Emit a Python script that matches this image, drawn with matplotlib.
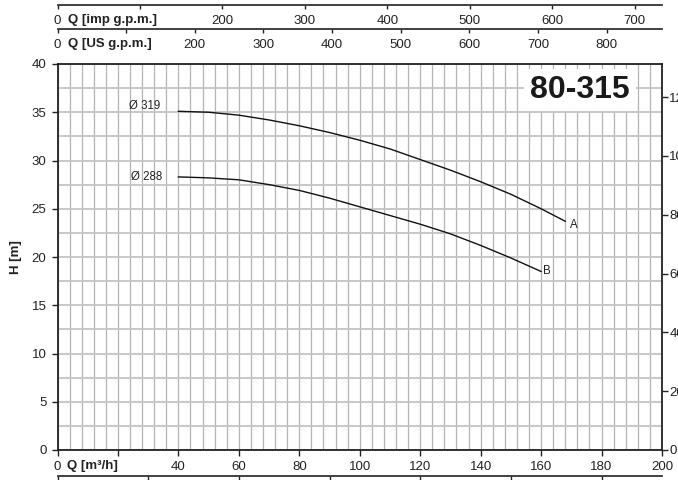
import numpy as np
import matplotlib
matplotlib.use('Agg')
import matplotlib.pyplot as plt

plt.rcParams['font.family'] = ['Liberation Sans', 'DejaVu Sans']

# ---- data ----
q_a = [40, 50, 60, 70, 80, 90, 100, 110, 120, 130, 140, 150, 160, 168]
h_a = [35.1, 35.0, 34.7, 34.2, 33.6, 32.9, 32.1, 31.2, 30.1, 29.0, 27.8, 26.5, 25.0, 23.7]
q_b = [40, 50, 60, 70, 80, 90, 100, 110, 120, 130, 140, 150, 160]
h_b = [28.3, 28.2, 28.0, 27.5, 26.9, 26.1, 25.2, 24.3, 23.4, 22.4, 21.2, 19.9, 18.5]

x_ticks = [0, 20, 40, 60, 80, 100, 120, 140, 160, 180, 200]
x_labels = ['0', '', '40', '60', '80', '100', '120', '140', '160', '180', '200']
y_ticks = [0, 5, 10, 15, 20, 25, 30, 35, 40]
imp_ticks = [0, 100, 200, 300, 400, 500, 600, 700]
imp_labels = ['0', '', '200', '300', '400', '500', '600', '700']
us_ticks = [0, 100, 200, 300, 400, 500, 600, 700, 800]
us_labels = ['0', '', '200', '300', '400', '500', '600', '700', '800']
ft_ticks = [0, 20, 40, 60, 80, 100, 120]
ft_labels = ['0', '20', '40', '60', '80', '100', '120']
lmin_ticks = [0, 500, 1000, 1500, 2000, 2500, 3000]

Q_MAX, H_MAX = 200, 40
M3H_TO_IMP = 3.66614
M3H_TO_US = 4.40287
M3H_TO_LMIN = 16.6667
M_TO_FT = 3.28084

W, Hh = 678, 480
fig = plt.figure(figsize=(W / 100, Hh / 100), dpi=100)
L = 57.5 / W
R = 662 / W
B = (Hh - 450) / Hh
T = (Hh - 64) / Hh

dark = '#222222'
gridc = '#b4b4b4'
FS = 9.5

ax = fig.add_axes([L, B, R - L, T - B])
ax.set_xlim(0, Q_MAX)
ax.set_ylim(0, H_MAX)
ax.set_xticks(x_ticks)
ax.set_xticklabels(x_labels)
ax.set_yticks(y_ticks)
ax.set_xticks(np.arange(0, Q_MAX + 1, 4), minor=True)
ax.set_yticks(np.arange(0, H_MAX + 0.1, 2.5), minor=True)
ax.tick_params(axis='x', which='major', direction='out', length=4, width=1, pad=4, labelsize=FS, colors=dark)
ax.tick_params(axis='y', which='major', direction='out', length=4, width=1, pad=4, labelsize=FS, colors=dark)
ax.tick_params(which='minor', length=0)
ax.grid(True, axis='x', which='both', color=gridc, lw=0.9)
ax.grid(True, axis='y', which='both', color='#c4c4c4', lw=1.3)
ax.set_axisbelow(True)
for s in ax.spines.values():
    s.set_color(dark)
    s.set_linewidth(1.3)

ax.plot(q_a, h_a, color='#111111', lw=1.0)
ax.plot(q_b, h_b, color='#111111', lw=1.0)

ax.text(34, 35.6, 'Ø 319', ha='right', va='center', fontsize=8.3, color=dark)
ax.text(34.8, 28.3, 'Ø 288', ha='right', va='center', fontsize=8.3, color=dark)
ax.text(170.9, 23.3, 'A', ha='center', va='center', fontsize=8.3, color=dark)
ax.text(162, 18.5, 'B', ha='center', va='center', fontsize=8.3, color=dark)

ax.text(0.864, 0.9326, '80-315', transform=ax.transAxes, ha='center', va='center',
        fontsize=23, fontweight='bold', color='#1a1a1a',
        bbox=dict(boxstyle='square,pad=0.2', fc='white', ec='none'))

ax.text(-0.069, 0.5, 'H [m]', transform=ax.transAxes, rotation=90, ha='center', va='center',
        fontsize=FS, fontweight='bold', color=dark)

label_off = -(4 * 0.72 + 4)
ax.annotate('Q [m³/h]', xy=(0.016, 0), xycoords='axes fraction', xytext=(0, label_off),
            textcoords='offset points', ha='left', va='top', fontsize=FS, fontweight='bold', color=dark)

# right axis in feet
ax2 = ax.twinx()
ax2.set_ylim(0, H_MAX * M_TO_FT)
ax2.set_yticks(ft_ticks)
ax2.set_yticklabels(ft_labels)
ax2.tick_params(axis='y', direction='out', length=4, width=1, pad=1.2, labelsize=FS, colors=dark)
for s in ax2.spines.values():
    s.set_visible(False)


def flow_axis(ypix, factor, ticks, labels, name, tick_len=3, show_labels=True):
    a = fig.add_axes([L, (Hh - ypix) / Hh, R - L, 0.0001])
    a.set_xlim(0, Q_MAX * factor)
    a.set_ylim(0, 1)
    a.patch.set_visible(False)
    for s in ['top', 'left', 'right']:
        a.spines[s].set_visible(False)
    a.spines['bottom'].set_linewidth(1.3)
    a.spines['bottom'].set_color('#333333')
    a.set_yticks([])
    a.set_xticks(ticks)
    if show_labels:
        a.set_xticklabels(labels)
    a.tick_params(axis='x', direction='out', length=tick_len, width=1, pad=4,
                  labelsize=FS, colors=dark, labelbottom=show_labels)
    if name:
        a.annotate(name, xy=(0.017, 0), xycoords='axes fraction',
                   xytext=(0, -(tick_len * 0.72 + 4)), textcoords='offset points',
                   ha='left', va='top', fontsize=FS, fontweight='bold', color=dark)
    return a


flow_axis(5, M3H_TO_IMP, imp_ticks, imp_labels, 'Q [imp g.p.m.]')
flow_axis(29, M3H_TO_US, us_ticks, us_labels, 'Q [US g.p.m.]')
flow_axis(476, M3H_TO_LMIN, lmin_ticks, None, None, tick_len=5, show_labels=False)

fig.savefig('out.png', dpi=100)
